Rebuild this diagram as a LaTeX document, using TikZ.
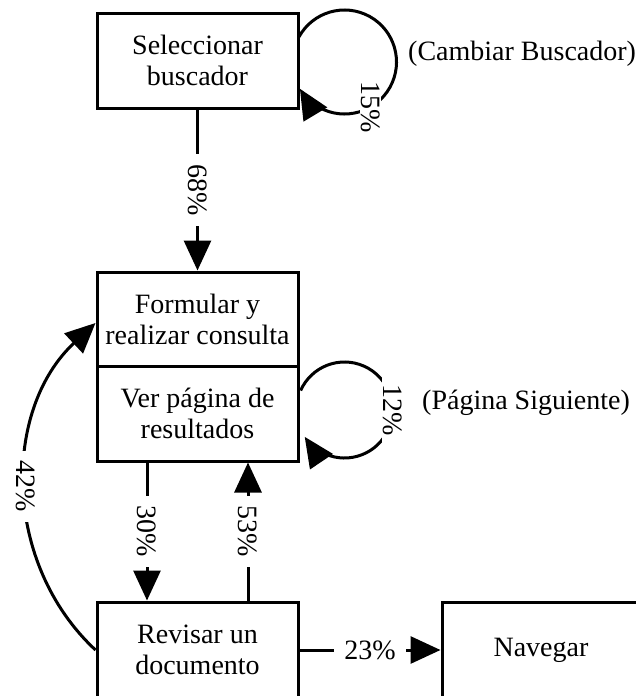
\documentclass[tikz,border=0pt]{standalone}
\usepackage{fontspec}
\setmainfont{Liberation Serif}
\usetikzlibrary{arrows.meta}
\newcommand{\diagfont}{\fontsize{28}{31}\selectfont}
\begin{document}
\begin{tikzpicture}[x=1pt,y=1pt,
  box/.style={draw, line width=3pt, minimum width=201pt, minimum height=95pt,
              inner sep=0pt, align=center, font=\diagfont},
  conn/.style={line width=3pt, -{Triangle[length=30pt,width=27pt]}},
  lbl/.style={fill=white, inner xsep=10pt, inner ysep=1pt, font=\diagfont},
  note/.style={anchor=base west, inner sep=0pt, font=\diagfont}]
\useasboundingbox (0,0) rectangle (636,-696);
\clip (0,0) rectangle (636,-696);

% process boxes
\node[box] (b1) at (197.5,-60.5) {Seleccionar\\buscador};
\node[box, minimum height=94pt] (b2a) at (197.5,-319) {Formular y\\realizar consulta};
\node[box] (b2b) at (197.5,-413.5) {Ver página de\\resultados};
\node[box, minimum height=96pt] (b3) at (197.5,-650) {Revisar un\\documento};
\node[box, minimum width=198pt, minimum height=96pt] (b4) at (541,-650) {Navegar};

% transitions between boxes
\draw[conn] (b1.south) -- (b2a.north) node[lbl, midway, rotate=-90] {68\%};
\draw[conn] ([xshift=-50.5pt]b2b.south) -- ([xshift=-50.5pt]b3.north)
  node[lbl, midway, rotate=-90] {30\%};
\draw[conn] ([xshift=50.5pt]b3.north) -- ([xshift=50.5pt]b2b.south)
  node[lbl, midway, rotate=-90] {53\%};
\draw[conn] (b3.west) to[bend left=47] node[lbl, midway, rotate=-90] {42\%}
  ([yshift=-4pt]b2a.west);
\draw[conn] (b3.east) -- (b4.west) node[lbl, midway] {23\%};

% self loops
\coordinate (c1) at ([xshift=45pt,yshift=-1.5pt]b1.east);
\draw[conn] ([shift={(151:52pt)}]c1) arc[start angle=151, end angle=-149, radius=52pt];
\node[lbl, rotate=-90] (l15) at ([shift={(-60:52pt)}]c1) {15\%};

\coordinate (c2) at ([xshift=45pt,yshift=3.5pt]b2b.east);
\draw[conn] ([shift={(156:48pt)}]c2) arc[start angle=156, end angle=-146, radius=48pt];
\node[lbl, rotate=-90] (l12) at ([shift={(0:48pt)}]c2) {12\%};

% loop captions
\node[note] (t1) at (408,-60) {(Cambiar Buscador)};
\node[note] (t2) at (422,-409) {(Página Siguiente)};
\end{tikzpicture}
\end{document}
